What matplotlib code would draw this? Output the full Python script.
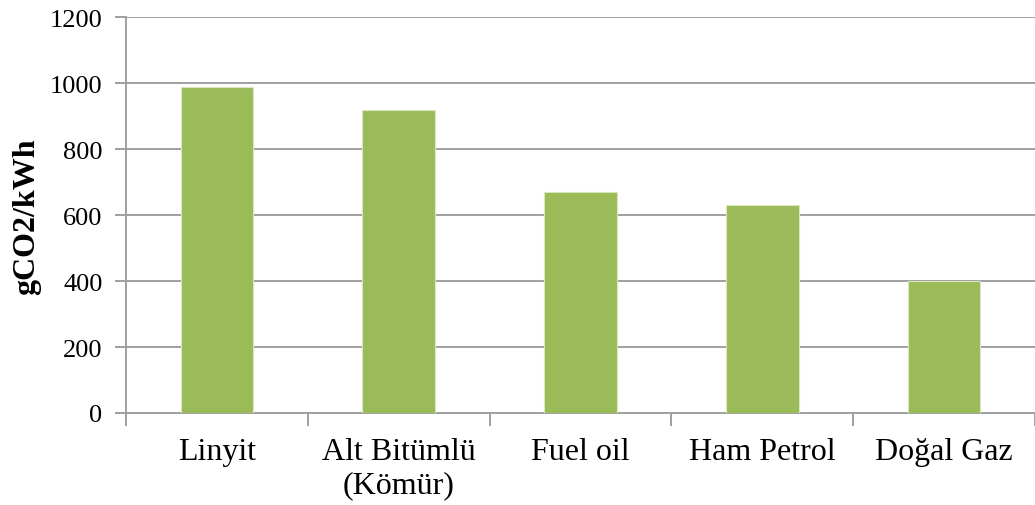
import matplotlib
matplotlib.use("Agg")
import matplotlib.pyplot as plt
import numpy as np

categories = ["Linyit", "Alt Bitümlü\n(Kömür)", "Fuel oil", "Ham Petrol", "Doğal Gaz"]
values = [990, 920, 670, 630, 400]
y_ticks = [0, 200, 400, 600, 800, 1000, 1200]

plt.rcParams["font.family"] = ["Liberation Serif", "DejaVu Serif"]

W, H = 1035, 506
fig = plt.figure(figsize=(W / 100, H / 100), dpi=100)
left, bottom, top = 126, 414, 18.4
ax = fig.add_axes([left / W, (H - bottom) / H, (W - left) / W, (bottom - top) / H])

grid_color = "#A0A0A0"
x = np.arange(len(categories))
ax.bar(x, values, width=0.4, color="#9BBB59", edgecolor="#D9E6C0", linewidth=0.8, zorder=3)

ax.set_ylim(0, 1200)
ax.set_yticks(y_ticks)
ax.set_yticklabels([str(v) for v in y_ticks], fontsize=19)
ax.yaxis.grid(True, color=grid_color, linewidth=1.4, zorder=0)

cat_width = 182.4
ax.set_xlim(-0.5, -0.5 + (W - left) / cat_width)
ax.set_xticks(np.arange(len(categories) + 1) - 0.5)
ax.set_xticklabels([])
ax.set_xticks(x, minor=True)
ax.set_xticklabels(categories, minor=True, fontsize=23, linespacing=1.2)
ax.tick_params(axis="x", which="minor", length=0, pad=17)
ax.tick_params(axis="x", which="major", length=9, width=1.4, color=grid_color, direction="out")
ax.tick_params(axis="y", length=8, width=1.4, color=grid_color, direction="out", pad=9)

for side in ("top", "right"):
    ax.spines[side].set_visible(False)
for side in ("left", "bottom"):
    ax.spines[side].set_color(grid_color)
    ax.spines[side].set_linewidth(1.4)

fig.text(27 / W, 1 - 217 / H, "gCO2/kWh", fontsize=23, fontweight="bold",
         rotation=90, ha="center", va="center")

fig.savefig("out.png", dpi=100)
